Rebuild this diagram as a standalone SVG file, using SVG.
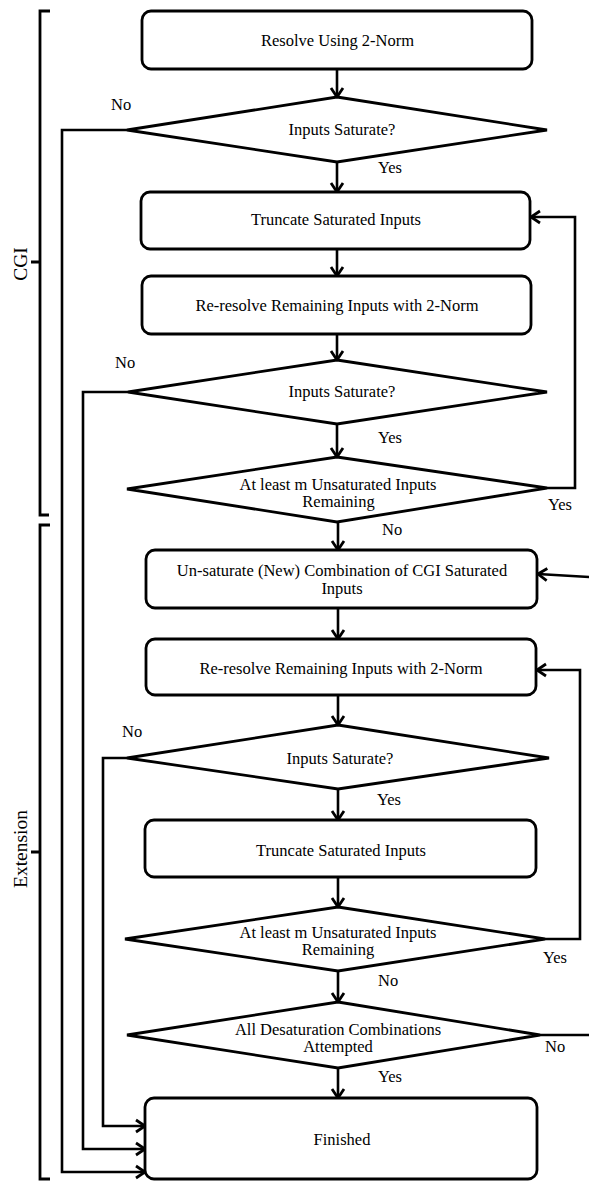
<svg xmlns="http://www.w3.org/2000/svg" width="589" height="1181" viewBox="0 0 589 1181">
<style>
.box{fill:#fff;stroke:#000;stroke-width:2.8}
.dia{fill:#fff;stroke:#000;stroke-width:2.8;stroke-linejoin:miter}
.ln{fill:none;stroke:#000;stroke-width:2.6}
.br{fill:none;stroke:#000;stroke-width:2.8}
.t{font-family:"Liberation Serif","Times New Roman",serif;font-size:16.5px;fill:#000;text-anchor:middle}
.l{font-family:"Liberation Serif","Times New Roman",serif;font-size:16.5px;fill:#000}
.g{font-family:"Liberation Serif","Times New Roman",serif;font-size:19.5px;fill:#000;text-anchor:middle}
</style>
<defs>
<marker id="arr" markerUnits="userSpaceOnUse" markerWidth="14" markerHeight="14" viewBox="0 0 14 14" refX="12" refY="7" orient="auto" overflow="visible">
<path d="M3,1 L12,7 L3,13" fill="none" stroke="#000" stroke-width="2.8"/>
</marker>
</defs>
<rect width="589" height="1181" fill="#fff"/>

<g id="braces">
<path class="br" d="M50,11 H40 V515 H49 M40,262 H31"/>
<text class="g" transform="translate(27,264) rotate(-90)">CGI</text>
<path class="br" d="M50,525 H40 V1179 H50 M40,852 H31"/>
<text class="g" transform="translate(27,849) rotate(-90)">Extension</text>
</g>

<g id="connectors">
<line class="ln" x1="337" y1="69" x2="337" y2="97" marker-end="url(#arr)"/>
<line class="ln" x1="337" y1="162" x2="337" y2="192" marker-end="url(#arr)"/>
<line class="ln" x1="337" y1="249" x2="337" y2="276" marker-end="url(#arr)"/>
<line class="ln" x1="337" y1="334" x2="337" y2="360" marker-end="url(#arr)"/>
<line class="ln" x1="337" y1="424" x2="337" y2="457" marker-end="url(#arr)"/>
<line class="ln" x1="338" y1="522" x2="338" y2="550" marker-end="url(#arr)"/>
<line class="ln" x1="338" y1="608" x2="338" y2="639" marker-end="url(#arr)"/>
<line class="ln" x1="338" y1="695" x2="338" y2="725" marker-end="url(#arr)"/>
<line class="ln" x1="338" y1="789" x2="338" y2="820" marker-end="url(#arr)"/>
<line class="ln" x1="338" y1="877" x2="338" y2="907" marker-end="url(#arr)"/>
<line class="ln" x1="338" y1="971" x2="338" y2="1002" marker-end="url(#arr)"/>
<line class="ln" x1="338" y1="1068" x2="338" y2="1098" marker-end="url(#arr)"/>
<polyline class="ln" points="127,130 62,130 62,1172 145,1172" marker-end="url(#arr)"/>
<polyline class="ln" points="128,392 83,392 83,1149 145,1149" marker-end="url(#arr)"/>
<polyline class="ln" points="127,758 103,758 103,1126 145,1126" marker-end="url(#arr)"/>
<polyline class="ln" points="547,488 575,488 575,217 531,217" marker-end="url(#arr)"/>
<polyline class="ln" points="545,939 580,939 580,670 537,670" marker-end="url(#arr)"/>
<line class="ln" x1="540" y1="1035" x2="590" y2="1035"/>
<line class="ln" x1="590" y1="577" x2="538" y2="574" marker-end="url(#arr)"/>
<text class="l" x="111" y="110">No</text>
<text class="l" x="378" y="173">Yes</text>
<text class="l" x="115" y="368">No</text>
<text class="l" x="378" y="443">Yes</text>
<text class="l" x="548" y="510">Yes</text>
<text class="l" x="382" y="535">No</text>
<text class="l" x="122" y="737">No</text>
<text class="l" x="377" y="805">Yes</text>
<text class="l" x="543" y="963">Yes</text>
<text class="l" x="378" y="986">No</text>
<text class="l" x="545" y="1052">No</text>
<text class="l" x="378" y="1082">Yes</text>
</g>

<g id="n1"><rect class="box" x="142" y="11" width="390" height="58" rx="9"/><text class="t" x="337.5" y="46">Resolve Using 2-Norm</text></g>
<g id="n2"><polygon class="dia" points="337,97 547,130 337,162 127,130"/><text class="t" x="342" y="135">Inputs Saturate?</text></g>
<g id="n3"><rect class="box" x="141" y="192" width="389" height="57" rx="9"/><text class="t" x="336" y="225">Truncate Saturated Inputs</text></g>
<g id="n4"><rect class="box" x="142" y="276" width="389" height="58" rx="9"/><text class="t" x="337" y="311">Re-resolve Remaining Inputs with 2-Norm</text></g>
<g id="n5"><polygon class="dia" points="337,360 547,392 337,424 128,392"/><text class="t" x="342" y="397">Inputs Saturate?</text></g>
<g id="n6"><polygon class="dia" points="337,457 547,488 337,522 127,489"/><text class="t" x="338" y="490">At least m Unsaturated Inputs</text><text class="t" x="338.5" y="507">Remaining</text></g>
<g id="n7"><rect class="box" x="146" y="550" width="391" height="58" rx="9"/><text class="t" x="342" y="576">Un-saturate (New) Combination of CGI Saturated</text><text class="t" x="342" y="594">Inputs</text></g>
<g id="n8"><rect class="box" x="146" y="639" width="390" height="56" rx="9"/><text class="t" x="341" y="674">Re-resolve Remaining Inputs with 2-Norm</text></g>
<g id="n9"><polygon class="dia" points="338,725 549,758 338,789 127,758"/><text class="t" x="340" y="764">Inputs Saturate?</text></g>
<g id="n10"><rect class="box" x="145" y="820" width="391" height="57" rx="9"/><text class="t" x="341" y="856">Truncate Saturated Inputs</text></g>
<g id="n11"><polygon class="dia" points="338,907 545,939 338,971 125,939"/><text class="t" x="338" y="938">At least m Unsaturated Inputs</text><text class="t" x="338" y="955">Remaining</text></g>
<g id="n12"><polygon class="dia" points="338,1002 540,1035 338,1068 127,1035"/><text class="t" x="338" y="1035">All Desaturation Combinations</text><text class="t" x="338" y="1052">Attempted</text></g>
<g id="n13"><rect class="box" x="145" y="1098" width="392" height="81" rx="9"/><text class="t" x="342" y="1145">Finished</text></g>
</svg>
